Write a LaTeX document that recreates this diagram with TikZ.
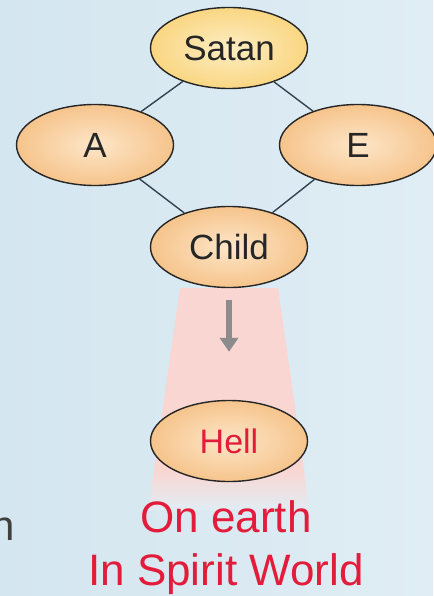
\documentclass[tikz,border=0pt]{standalone}
\usepackage{fontspec}
\setmainfont{Liberation Sans}
\usetikzlibrary{shapes.geometric}
\usetikzlibrary{arrows.meta}
\pgfdeclarelayer{backlayer}
\pgfdeclarelayer{edgelayer}
\pgfdeclarelayer{nodelayer}
\pgfsetlayers{backlayer,edgelayer,nodelayer,main}
\definecolor{skyleft}{RGB}{212,230,240}
\definecolor{skyright}{RGB}{224,237,244}
\definecolor{peach}{RGB}{246,196,140}
\definecolor{peachlight}{RGB}{253,230,200}
\definecolor{sunpeach}{RGB}{249,214,130}
\definecolor{sunlight}{RGB}{254,238,195}
\definecolor{hellred}{RGB}{226,28,58}
\definecolor{glowpink}{RGB}{250,214,210}
\definecolor{slateline}{RGB}{52,66,78}
\tikzstyle{soul_vertex}=[ellipse,draw=black!85,line width=1.4pt,minimum width=157pt,minimum height=81pt,inner sep=0pt,text=black!85,font=\fontsize{35}{42}\selectfont,inner color=peachlight,outer color=peach]
\tikzstyle{lineage}=[-,draw=slateline,line width=1.4pt]
\tikzstyle{descent}=[-{Triangle[width=18pt,length=14pt]},draw=black!45,line width=6pt]

\begin{document}
\begin{tikzpicture}[x=1pt,y=-1pt]
	\useasboundingbox (0,0) rectangle (433,596);
	\begin{pgfonlayer}{backlayer}
		\shade [left color=skyleft, right color=skyright] (0,0) rectangle (433,596);
		\fill [glowpink] (180,288) -- (278,288) -- (304,470) -- (154,470) -- cycle;
		\shade [top color=glowpink, bottom color=skyright] (154,470) -- (304,470) -- (309,510) -- (149,510) -- cycle;
	\end{pgfonlayer}
	\begin{pgfonlayer}{nodelayer}
		\node [style={soul_vertex}, inner color=sunlight, outer color=sunpeach] (0) at (229,48) {Satan};
		\node [style={soul_vertex}] (1) at (95,145) {A};
		\node [style={soul_vertex}] (2) at (358,145) {E};
		\node [style={soul_vertex}] (3) at (229,247) {Child};
		\node [style={soul_vertex}, text=hellred, font=\fontsize{34}{40}\selectfont] (4) at (229,441) {Hell};
		\node [anchor=base, text=hellred, align=center, font=\fontsize{44}{53}\selectfont] (5) at (226,585) {On earth\\In Spirit World};
		\node [anchor=base east, text=black!75, font=\fontsize{42}{50}\selectfont] (6) at (18,540) {n};
	\end{pgfonlayer}
	\begin{pgfonlayer}{edgelayer}
		\draw [style=lineage] (0) to (1);
		\draw [style=lineage] (0) to (2);
		\draw [style=lineage] (1) to (3);
		\draw [style=lineage] (2) to (3);
		\draw [style=descent, shorten <=12pt, shorten >=48pt] (3) to (4);
	\end{pgfonlayer}
\end{tikzpicture}
\end{document}
